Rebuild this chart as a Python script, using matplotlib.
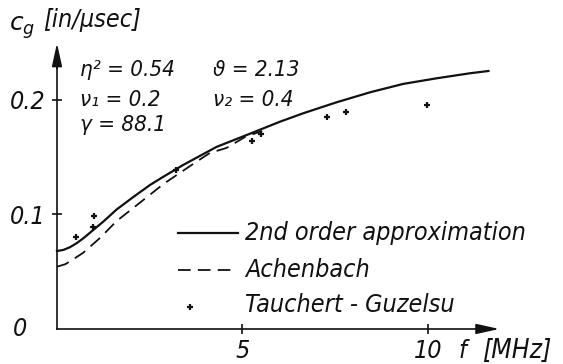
import numpy as np
import matplotlib
matplotlib.use("Agg")
import matplotlib.pyplot as plt

# group velocity c_g [in/usec] versus frequency f [MHz]
f_second = [0.00, 0.17, 0.35, 0.53, 0.71, 0.98, 1.25, 1.61, 2.06, 2.51, 2.86, 3.40,
            4.30, 5.20, 6.01, 6.64, 7.54, 8.44, 9.33, 10.23, 11.13, 11.63]
cg_second = [0.0681, 0.0690, 0.0714, 0.0749, 0.0792, 0.0865, 0.0938, 0.1044, 0.1153,
             0.1258, 0.1328, 0.1432, 0.1590, 0.1705, 0.1810, 0.1884, 0.1980, 0.2067,
             0.2140, 0.2189, 0.2233, 0.2253]

f_achenbach = [0.00, 0.22, 0.44, 0.71, 1.16, 1.61, 2.33, 2.87, 3.23, 3.67, 4.12, 4.57, 5.07, 5.53]
cg_achenbach = [0.0544, 0.0565, 0.0609, 0.0666, 0.0795, 0.0943, 0.1127, 0.1266, 0.1345,
                0.1441, 0.1537, 0.1581, 0.1677, 0.1729]

f_tauchert = [0.51, 1.01, 0.98, 3.21, 5.27, 5.50, 7.29, 7.79, 9.97]
cg_tauchert = [0.0803, 0.0990, 0.0893, 0.1389, 0.1645, 0.1700, 0.1849, 0.1898, 0.1956]

xticks = [5, 10]
yticks = [0.1, 0.2]

font = dict(family="DejaVu Sans", stretch="condensed", style="italic", color="#111111")
plt.rcParams['mathtext.fontset'] = 'dejavusans'

fig = plt.figure(figsize=(5.63, 3.64), dpi=100)
ax = fig.add_axes([0, 0, 1, 1])
ax.set_xlim(-1.536, 13.64)
ax.set_ylim(-0.0306, 0.2873)

ink = "#111111"
ax.plot(f_second, cg_second, color=ink, lw=1.6, solid_joinstyle="round")
ax.plot(f_achenbach, cg_achenbach, color=ink, lw=1.3, dashes=(7, 4))
ax.plot(f_tauchert, cg_tauchert, ls="none", marker="+", ms=5, mew=1.6, color=ink)

# axes drawn as arrows through the origin
for side in ["top", "right"]:
    ax.spines[side].set_visible(False)
ax.spines["left"].set_position(("data", 0))
ax.spines["bottom"].set_position(("data", 0))
ax.spines["left"].set_bounds(0, 0.235)
ax.spines["bottom"].set_bounds(0, 11.6)
for side in ["left", "bottom"]:
    ax.spines[side].set_linewidth(1.2)
    ax.spines[side].set_color(ink)
arrow = dict(arrowstyle="-|>,head_length=1.0,head_width=0.22", color=ink, lw=1.2, mutation_scale=14)
ax.annotate("", xy=(0, 0.252), xytext=(0, 0.225), arrowprops=arrow)
ax.annotate("", xy=(12.0, 0), xytext=(11.3, 0), arrowprops=arrow)

ax.set_xticks(xticks)
ax.set_yticks(yticks)
ax.set_xticklabels([str(v) for v in xticks], fontsize=18, **font)
ax.set_yticklabels([str(v) for v in yticks], fontsize=18, **font)
ax.tick_params(direction="inout", length=7, width=1.2, color=ink, pad=4)
ax.tick_params(axis="y", pad=5)
ax.text(-1.0, 0.0, "0", fontsize=18, ha="center", va="center", **font)

# axis titles
ax.text(-0.95, 0.263, r"$c_g$", fontsize=18, ha="center", va="center", color=ink)
ax.text(-0.38, 0.270, "[in/µsec]", fontsize=18, ha="left", va="center", **font)
ax.text(10.94, -0.019, "f", fontsize=18, ha="center", va="center", **font)
ax.text(11.45, -0.019, "[MHz]", fontsize=19, ha="left", va="center", **font)

# material parameters
ax.text(0.62, 0.226, "η² = 0.54", fontsize=16, ha="left", va="center", **font)
ax.text(4.20, 0.226, "ϑ = 2.13", fontsize=16, ha="left", va="center", **font)
ax.text(0.62, 0.200, "ν₁ = 0.2", fontsize=16, ha="left", va="center", **font)
ax.text(4.20, 0.200, "ν₂ = 0.4", fontsize=16, ha="left", va="center", **font)
ax.text(0.62, 0.178, "γ = 88.1", fontsize=16, ha="left", va="center", **font)

# legend
ax.plot([3.26, 4.88], [0.0838, 0.0838], color=ink, lw=1.6)
ax.plot([3.26, 4.74], [0.0515, 0.0515], color=ink, lw=1.3, dashes=(7, 4))
ax.plot([3.58], [0.019], ls="none", marker="+", ms=5, mew=1.6, color=ink)
ax.text(5.07, 0.0838, "2nd order approximation", fontsize=18, ha="left", va="center", **font)
ax.text(5.07, 0.0515, "Achenbach", fontsize=18, ha="left", va="center", **font)
ax.text(5.07, 0.021, "Tauchert - Guzelsu", fontsize=18, ha="left", va="center", **font)

fig.savefig("out.png", dpi=100)
